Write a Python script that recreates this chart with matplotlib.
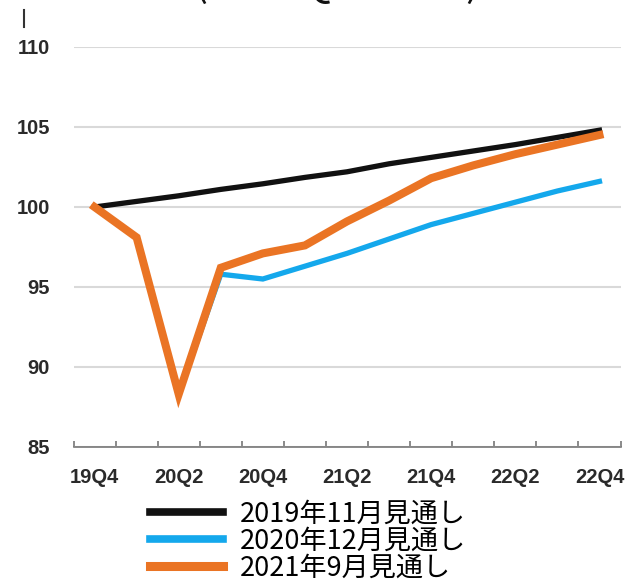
import matplotlib
matplotlib.use("Agg")
import matplotlib.pyplot as plt
from matplotlib.lines import Line2D

# quarters 19Q4 .. 22Q4
quarters = ["19Q4", "20Q1", "20Q2", "20Q3", "20Q4", "21Q1", "21Q2",
            "21Q3", "21Q4", "22Q1", "22Q2", "22Q3", "22Q4"]

# real GDP outlook, 2019Q4 = 100
outlook_2019_11 = [100.0, 100.35, 100.7, 101.1, 101.45, 101.85, 102.2,
                   102.7, 103.1, 103.5, 103.9, 104.35, 104.8]
outlook_2020_12 = [100.0, 98.1, 88.3, 95.8, 95.5, 96.3, 97.1,
                   98.0, 98.9, 99.6, 100.3, 101.0, 101.6]
outlook_2021_09 = [100.0, 98.1, 88.3, 96.2, 97.1, 97.6, 99.1,
                   100.4, 101.8, 102.6, 103.3, 103.9, 104.5]

series_labels = ["2019年11月見通し", "2020年12月見通し", "2021年9月見通し"]
y_ticks = [85, 90, 95, 100, 105, 110]

fig = plt.figure(figsize=(6.3, 5.82), dpi=100)
ax = fig.add_axes([73.5 / 630, 1 - 447 / 582, 547 / 630, 400 / 582])

x = range(len(quarters))
l1, = ax.plot(x, outlook_2019_11, color="#111111", lw=3.8, solid_joinstyle="miter", zorder=3)
l2, = ax.plot(x, outlook_2020_12, color="#14A8EC", lw=3.8, solid_joinstyle="miter", zorder=4)
l3, = ax.plot(x, outlook_2021_09, color="#EA7424", lw=5.8, solid_joinstyle="miter", zorder=5)

ax.set_xlim(-0.5, len(quarters) - 0.5)
ax.set_ylim(85, 110)
ax.set_yticks(y_ticks)
ax.set_yticklabels([str(v) for v in y_ticks])
ax.grid(axis="y", color="#d9d9d9", lw=1.5)
ax.set_axisbelow(True)

# labels on every other quarter, tick marks between categories
ax.set_xticks(list(x)[::2])
ax.set_xticklabels(quarters[::2])
ax.set_xticks([i - 0.5 for i in range(len(quarters) + 1)], minor=True)
ax.tick_params(axis="x", which="major", length=0, pad=15)
ax.tick_params(axis="x", which="minor", direction="in", length=4, width=1.2, color="#777777")
ax.tick_params(axis="y", length=0, pad=17)

for lab in ax.get_xticklabels() + ax.get_yticklabels():
    lab.set_family("Liberation Sans")
    lab.set_weight("bold")
    lab.set_fontsize(14.5)
    lab.set_color("#2a2a2a")

for side in ["top", "right", "left"]:
    ax.spines[side].set_visible(False)
ax.spines["bottom"].set_color("#777777")
ax.spines["bottom"].set_linewidth(1.2)

leg = fig.legend([l1, l2, l3], series_labels, loc="upper left",
                 bbox_to_anchor=(136 / 630, 1 - 487 / 582), frameon=False,
                 prop={"family": ["Noto Sans CJK JP", "DejaVu Sans"], "size": 19.5},
                 handlelength=2.7, handletextpad=0.65, labelspacing=0.0,
                 borderpad=0)
for h, w in zip(leg.get_lines(), [5.5, 5.5, 6.5]):
    h.set_linewidth(w)

# clipped heading above the plot
fig.text(0.535, 1 + 4 / 582, "(2019Q4 = 100)", ha="center", va="baseline",
         fontsize=30, family=["Noto Sans CJK JP", "DejaVu Sans"], color="#111111")
fig.add_artist(Line2D([24 / 630, 24 / 630], [1 - 10 / 582, 1 - 27 / 582],
                      color="#333333", lw=1.5))

fig.savefig("out.png", dpi=100)
